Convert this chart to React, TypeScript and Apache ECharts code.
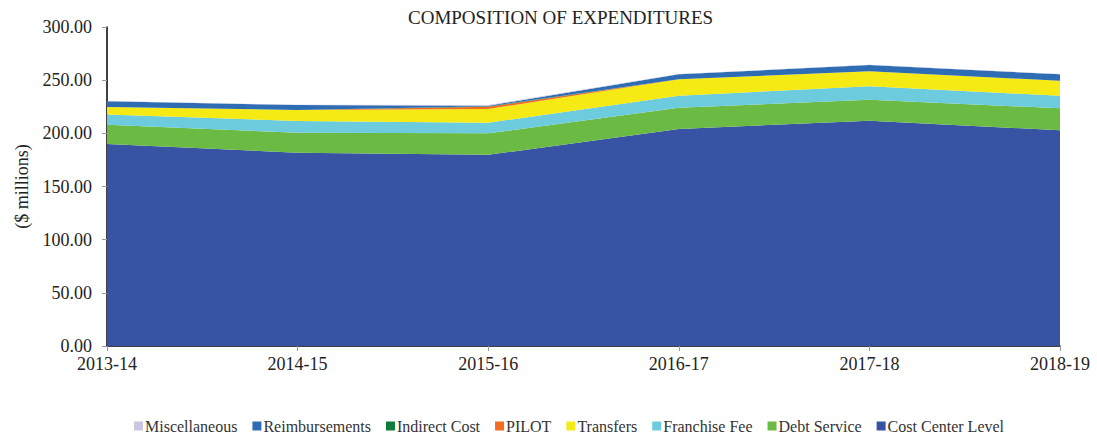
import React, { useEffect, useRef } from "react";
import * as echarts from "echarts";

const categories = ["2013-14", "2014-15", "2015-16", "2016-17", "2017-18", "2018-19"];
const costCenterLevel = [190.0, 181.8, 179.8, 204.1, 211.9, 202.9];
const debtService = [18.0, 18.8, 20.2, 20.0, 19.7, 20.6];
const franchiseFee = [9.6, 11.0, 10.0, 11.3, 12.6, 11.9];
const transfers = [7.2, 10.3, 12.9, 15.4, 14.1, 14.1];
const pilot = [0, 0, 2.0, 0, 0, 0];
const indirectCost = [0, 0, 0.6, 0, 0, 0];
const reimbursements = [5.3, 4.7, 0.5, 4.7, 6.0, 6.0];
const miscellaneous = [0.3, 0.2, 0.6, 0.2, 0.2, 0.2];
const yTicks = [0, 50, 100, 150, 200, 250, 300];

const FONT = "'Liberation Serif', 'Times New Roman', serif";

const seriesDefs = [
  { name: "Cost Center Level", data: costCenterLevel, color: "#3953a4" },
  { name: "Debt Service", data: debtService, color: "#6aba44" },
  { name: "Franchise Fee", data: franchiseFee, color: "#6ccbdc" },
  { name: "Transfers", data: transfers, color: "#f5ea14" },
  { name: "PILOT", data: pilot, color: "#f26b21" },
  { name: "Indirect Cost", data: indirectCost, color: "#0e7c3a" },
  { name: "Reimbursements", data: reimbursements, color: "#2e6db4" },
  { name: "Miscellaneous", data: miscellaneous, color: "#c9c5e3" },
];

export default function App() {
  const ref = useRef<HTMLDivElement>(null);
  useEffect(() => {
    document.body.style.margin = "0";
    const chart = echarts.init(ref.current!, null, { renderer: "svg" });
    chart.setOption({
      animation: false,
      backgroundColor: "#ffffff",
      title: {
        text: "COMPOSITION OF EXPENDITURES",
        left: 403,
        top: 3,
        textStyle: { fontFamily: FONT, fontSize: 19, fontWeight: "normal", color: "#222" },
      },
      legend: {
        bottom: 1,
        left: 129,
        icon: "rect",
        itemWidth: 9,
        itemHeight: 9,
        itemGap: 15,
        data: seriesDefs.map((s) => s.name).reverse(),
        textStyle: { fontFamily: FONT, fontSize: 16, color: "#333", padding: [0, 0, 0, -3] },
      },
      grid: { left: 107, right: 37, top: 27, bottom: 94 },
      xAxis: {
        type: "category",
        data: categories,
        boundaryGap: false,
        axisLine: { show: true, lineStyle: { color: "#000", width: 1.5 } },
        axisTick: { show: true, length: 5, lineStyle: { color: "#999" } },
        axisLabel: { fontFamily: FONT, fontSize: 18, color: "#222", margin: 9 },
        splitLine: { show: false },
      },
      yAxis: {
        type: "value",
        min: yTicks[0],
        max: yTicks[yTicks.length - 1],
        interval: 50,
        name: "($ millions)",
        nameLocation: "middle",
        nameGap: 76,
        nameTextStyle: { fontFamily: FONT, fontSize: 18, color: "#222" },
        axisLine: { show: true, lineStyle: { color: "#000", width: 1.5 } },
        axisTick: { show: true, length: 5, inside: false, lineStyle: { color: "#999" } },
        axisLabel: {
          fontFamily: FONT,
          fontSize: 18,
          color: "#222",
          margin: 15,
          formatter: (v: number) => v.toFixed(2),
        },
        splitLine: { show: false },
      },
      series: seriesDefs.map((s) => ({
        name: s.name,
        type: "line",
        stack: "total",
        data: s.data,
        showSymbol: false,
        symbol: "none",
        lineStyle: { width: 0, color: s.color },
        itemStyle: { color: s.color },
        areaStyle: { color: s.color, opacity: 1 },
      })),
    });
    return () => chart.dispose();
  }, []);
  return <div ref={ref} style={{ width: 1097, height: 440 }} />;
}
